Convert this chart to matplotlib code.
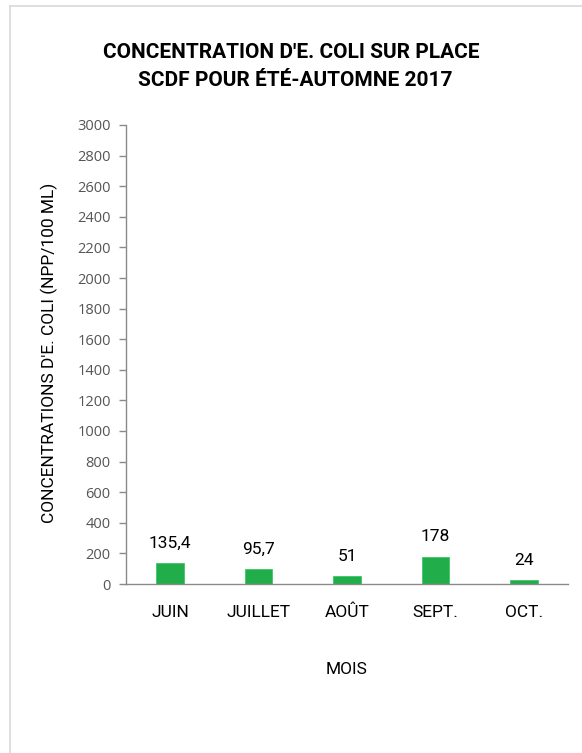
import matplotlib.pyplot as plt
from matplotlib.lines import Line2D

# Données : concentrations mensuelles d'E. coli (NPP/100 mL)
mois = ["JUIN", "JUILLET", "AOÛT", "SEPT.", "OCT."]
concentrations = [135.4, 95.7, 51, 178, 24]
etiquettes = ["135,4", "95,7", "51", "178", "24"]
graduations = list(range(0, 3001, 200))

NARROW = ["Roboto", "DejaVu Sans"]
VERT = "#20ad4a"
GRIS = "#8a8a8a"

fig = plt.figure(figsize=(5.82, 7.53), dpi=100)
ax = fig.add_axes([126 / 582, 1 - 584 / 753, 442 / 582, 459 / 753])

pos = range(len(mois))
ax.bar(pos, concentrations, width=0.31, color=VERT, edgecolor="#3cc766", linewidth=0.6)

# Valeur affichée au-dessus de chaque barre
for x, v, txt in zip(pos, concentrations, etiquettes):
    ax.annotate(txt, (x, v), xytext=(0, 9), textcoords="offset points",
                ha="center", va="bottom", fontsize=12.5, family=NARROW)

ax.set_xlim(-0.5, len(mois) - 0.5)
ax.set_ylim(0, 3000)
ax.set_yticks(graduations)
ax.set_yticklabels([str(g) for g in graduations], family=["Open Sans", "DejaVu Sans"],
                   fontsize=10.5, color="#555555")
ax.set_xticks(list(pos))
ax.set_xticklabels(mois, family=NARROW, fontsize=12.5)

ax.tick_params(axis="x", length=0, pad=15)
ax.tick_params(axis="y", direction="out", length=5, color=GRIS, width=1, pad=6)

for side in ["top", "right"]:
    ax.spines[side].set_visible(False)
for side in ["left", "bottom"]:
    ax.spines[side].set_color(GRIS)
    ax.spines[side].set_linewidth(1)

fig.text(49 / 582, 1 - 353 / 753, "CONCENTRATIONS D'E. COLI (NPP/100 ML)",
         rotation=90, ha="center", va="center", family=NARROW, fontsize=12.5)

fig.text(347 / 582, 1 - 670 / 753, "MOIS", ha="center", va="center",
         family=NARROW, fontsize=12.5)

fig.text(0.5, 1 - 52 / 753, "CONCENTRATION D'E. COLI SUR PLACE",
         ha="center", va="center", family=NARROW, fontsize=15, fontweight="bold")
fig.text(0.508, 1 - 80 / 753, "SCDF POUR ÉTÉ-AUTOMNE 2017",
         ha="center", va="center", family=NARROW, fontsize=15, fontweight="bold")

# Cadre partiel (haut et gauche)
fig.add_artist(Line2D([9.5 / 582, 1], [1 - 5.5 / 753, 1 - 5.5 / 753],
                      transform=fig.transFigure, color="#d9d9d9", lw=1.2))
fig.add_artist(Line2D([9.5 / 582, 9.5 / 582], [0, 1 - 5.5 / 753],
                      transform=fig.transFigure, color="#d9d9d9", lw=1.2))

fig.savefig("out.png", dpi=100)
